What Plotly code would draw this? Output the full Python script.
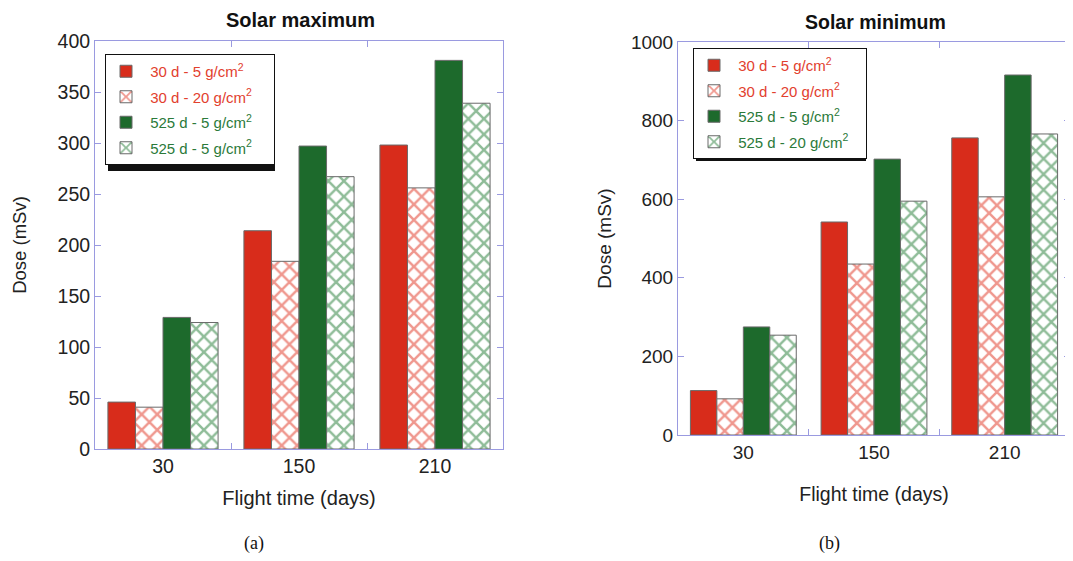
import plotly.graph_objects as go

categories = ["30", "150", "210"]
series_names = ["30 d - 5 g/cm<sup>2</sup>", "30 d - 20 g/cm<sup>2</sup>",
                "525 d - 5 g/cm<sup>2</sup>", "525 d - 5 g/cm<sup>2</sup>"]
series_names_b = ["30 d - 5 g/cm<sup>2</sup>", "30 d - 20 g/cm<sup>2</sup>",
                  "525 d - 5 g/cm<sup>2</sup>", "525 d - 20 g/cm<sup>2</sup>"]

# Solar maximum (a)
max_30d_5 = [46, 214, 298]
max_30d_20 = [41, 184, 256]
max_525d_5 = [129, 297, 381]
max_525d_20 = [124, 267, 339]

# Solar minimum (b)
min_30d_5 = [113, 542, 756]
min_30d_20 = [92, 435, 606]
min_525d_5 = [275, 702, 916]
min_525d_20 = [254, 595, 766]

RED = "#d82c1b"
GREEN = "#1d6a2c"
RED_HATCH = "#e0301e"
GREEN_HATCH = "#1f7a32"
RED_TXT = "#e2402e"
GREEN_TXT = "#2b7a3a"
AXIS = "#9a9ae0"
OUTLINE = "#6a6a6a"

OFF = 8                      # page body margin
W, H = 1073 - OFF, 561 - 2 * OFF
def px_x(p): return min(1.0, max(0.0, (p - OFF) / W))
def px_y(p): return min(1.0, max(0.0, 1 - (p - OFF) / H))

fig = go.Figure()

def add_series(vals_list, names, xa, ya, leg, pad):
    styles = [(RED, None, RED_TXT), (RED_HATCH, "x", RED_TXT),
              (GREEN, None, GREEN_TXT), (GREEN_HATCH, "x", GREEN_TXT)]
    for i, (vals, name, (col, shape, tcol)) in enumerate(zip(vals_list, names, styles)):
        if shape:
            marker = dict(color="white", line=dict(color=OUTLINE, width=1),
                          pattern=dict(shape="x", fgcolor=col, bgcolor="white", size=11, solidity=0.4))
        else:
            marker = dict(color=col, line=dict(color=OUTLINE, width=1))
        fig.add_trace(go.Bar(x=categories, y=vals,
                             name=f'<span style="color:{tcol}">&nbsp;{name}{pad}</span>',
                             marker=marker, xaxis=xa, yaxis=ya, legend=leg,
                             legendgroup=f"{leg}_{i}"))

add_series([max_30d_5, max_30d_20, max_525d_5, max_525d_20], series_names, "x", "y", "legend",
           "&nbsp;" * 4)
add_series([min_30d_5, min_30d_20, min_525d_5, min_525d_20], series_names_b, "x2", "y2", "legend2",
           "&nbsp;" * 3)

FONT = "Liberation Sans, Arial"
def tickfont(s): return dict(family=FONT, size=s, color="#222")
def titlefont(s): return dict(family=FONT, size=s, color="#222")
common_x = dict(type="category", showline=True, linecolor=AXIS, linewidth=1, mirror="allticks",
                ticks="inside", tickson="boundaries", ticklen=6, tickcolor=AXIS, showgrid=False,
                automargin=False)
common_y = dict(showline=True, linecolor=AXIS, linewidth=1, mirror="allticks", ticks="inside",
                ticklen=6, tickcolor=AXIS, showgrid=False, zeroline=False, automargin=False)

legend_common = dict(bgcolor="white", bordercolor="#111", borderwidth=1,
                     font=dict(family=FONT, size=15),
                     xanchor="left", yanchor="top", tracegroupgap=3, itemwidth=30)

fig.update_layout(
    width=W, height=H, margin=dict(l=0, r=0, t=0, b=0, autoexpand=False),
    paper_bgcolor="white", plot_bgcolor="white",
    barmode="group", bargap=0.19, bargroupgap=0,
    xaxis=dict(domain=[px_x(95), px_x(503)], anchor="y", tickfont=tickfont(19.5),
               title=dict(text="Flight time (days)", standoff=14, font=titlefont(20)), **common_x),
    yaxis=dict(domain=[px_y(449), px_y(41)], anchor="x", range=[0, 400], dtick=50,
               tickfont=tickfont(19.5),
               title=dict(text="Dose (mSv)", standoff=26, font=titlefont(18.5)), **common_y),
    xaxis2=dict(domain=[px_x(678), px_x(1070)], anchor="y2", tickfont=tickfont(19),
                title=dict(text="Flight time (days)", standoff=25, font=titlefont(19.5)), **common_x),
    yaxis2=dict(domain=[px_y(435), px_y(42)], anchor="x2", range=[0, 1000], dtick=200,
                tickfont=tickfont(19),
                title=dict(text="Dose (mSv)", standoff=14, font=titlefont(19)), **common_y),
    legend=dict(x=px_x(105), y=px_y(54), **legend_common),
    legend2=dict(x=px_x(693), y=px_y(48), **legend_common),
    showlegend=True,
)

# legend shadows
for (x0, y0, x1, y1) in [(108, 57, 275, 171), (696, 51, 866, 161)]:
    fig.add_shape(type="rect", xref="paper", yref="paper",
                  x0=px_x(x0), x1=px_x(x1), y0=px_y(y1), y1=px_y(y0),
                  fillcolor="#111", line=dict(width=0), layer="above")

annots = [
    dict(text="<b>Solar maximum</b>", x=px_x(300), y=px_y(8), size=20, fam=FONT, anchor="top"),
    dict(text="<b>Solar minimum</b>", x=px_x(875), y=px_y(10), size=19.5, fam=FONT, anchor="top"),
    dict(text="(a)", x=px_x(254), y=px_y(543), size=18, fam="Liberation Serif, Times New Roman", anchor="middle"),
    dict(text="(b)", x=px_x(829), y=px_y(543), size=18, fam="Liberation Serif, Times New Roman", anchor="middle"),
]
for a in annots:
    fig.add_annotation(text=a["text"], x=a["x"], y=a["y"], xref="paper", yref="paper",
                       showarrow=False, xanchor="center", yanchor=a["anchor"], borderpad=0,
                       font=dict(family=a["fam"], size=a["size"], color="#111"))

fig.write_html("out.html")
